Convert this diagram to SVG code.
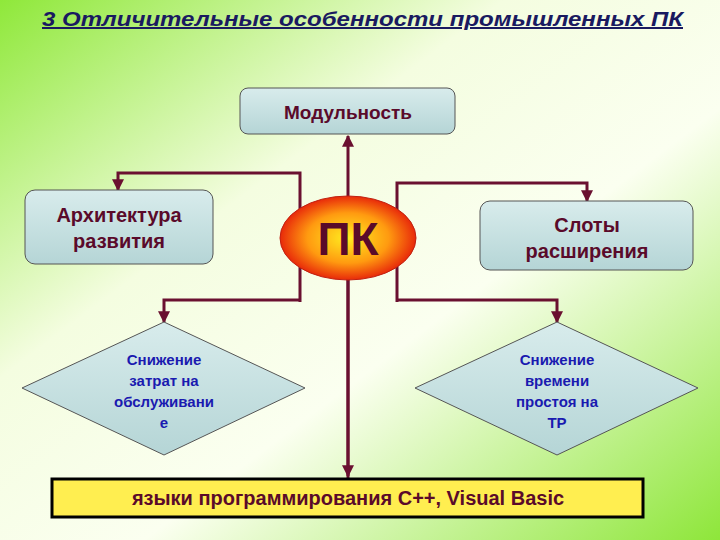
<svg xmlns="http://www.w3.org/2000/svg" width="720" height="540" viewBox="0 0 720 540">
<defs>
<linearGradient id="bg" x1="0" y1="0" x2="1" y2="1">
<stop offset="0" stop-color="#8fe83a"/>
<stop offset="0.35" stop-color="#f4fde0"/>
<stop offset="0.6" stop-color="#fbfff0"/>
<stop offset="1" stop-color="#8ee63a"/>
</linearGradient>
<linearGradient id="box" x1="0" y1="0" x2="0" y2="1">
<stop offset="0" stop-color="#d8ecec"/>
<stop offset="1" stop-color="#b5d5d6"/>
</linearGradient>
<radialGradient id="pk" cx="0.5" cy="0.5" r="0.5">
<stop offset="0" stop-color="#ffee20"/>
<stop offset="0.6" stop-color="#ff9a10"/>
<stop offset="1" stop-color="#e82a0a"/>
</radialGradient>
<marker id="ah" viewBox="0 0 10 10" refX="9" refY="5" markerWidth="4" markerHeight="4" orient="auto">
<path d="M0,0 L10,5 L0,10 Z" fill="#6a1030"/>
</marker>
<style>
.b{fill:url(#box);stroke:#555;stroke-width:1}
.t{font-family:"Liberation Sans",Arial,sans-serif;font-weight:bold;fill:#5a0a2a;text-anchor:middle}
.d{font-family:"Liberation Sans",Arial,sans-serif;font-weight:bold;fill:#1a1ab0;text-anchor:middle;font-size:15px}
.c{fill:none;stroke:#6a1030;stroke-width:3;marker-end:url(#ah)}
</style>
</defs>
<rect width="720" height="540" fill="url(#bg)"/>
<text x="42" y="26" font-family="Liberation Sans,Arial,sans-serif" font-style="italic" font-weight="bold" font-size="20" fill="#1a1a60" text-decoration="underline" textLength="641" lengthAdjust="spacingAndGlyphs">3 Отличительные особенности промышленных ПК</text>
<g id="connectors">
<path class="c" d="M348,478 L348,136"/>
<path class="c" d="M348,200 L348,476"/>
<path class="c" d="M300,302 L300,173 L118,173 L118,190"/>
<path class="c" d="M300,300 L164,300 L164,322"/>
<path class="c" d="M397,302 L397,183 L587,183 L587,201"/>
<path class="c" d="M397,300 L557,300 L557,322"/>
</g>
<g id="modul"><rect class="b" x="240" y="88" width="215" height="46" rx="8"/><text class="t" x="348" y="119" font-size="19">Модульность</text></g>
<g id="arch"><rect class="b" x="25" y="190" width="188" height="74" rx="10"/><text class="t" x="119" y="222" font-size="20">Архитектура</text><text class="t" x="119" y="248" font-size="20">развития</text></g>
<g id="slots"><rect class="b" x="480" y="201" width="213" height="69" rx="10"/><text class="t" x="587" y="232" font-size="20">Слоты</text><text class="t" x="587" y="258" font-size="20">расширения</text></g>
<g id="pkn"><ellipse cx="348" cy="238" rx="68" ry="42" fill="url(#pk)" stroke="#c02010" stroke-width="1"/><text class="t" x="348" y="255" font-size="46" font-weight="normal">ПК</text></g>
<g id="dl"><polygon class="b" points="164,322 305,388 164,455 22,388"/><text class="d" x="164" y="365">Снижение</text><text class="d" x="164" y="386">затрат на</text><text class="d" x="164" y="407">обслуживани</text><text class="d" x="164" y="428">е</text></g>
<g id="dr"><polygon class="b" points="557,322 698,388 557,455 415,388"/><text class="d" x="557" y="365">Снижение</text><text class="d" x="557" y="386">времени</text><text class="d" x="557" y="407">простоя на</text><text class="d" x="557" y="428">ТР</text></g>
<g id="lang"><rect x="52" y="479" width="591" height="38" fill="#ffee50" stroke="#000" stroke-width="3"/><text class="t" x="348" y="505" font-size="20">языки программирования С++, Visual Basic</text></g>
</svg>
